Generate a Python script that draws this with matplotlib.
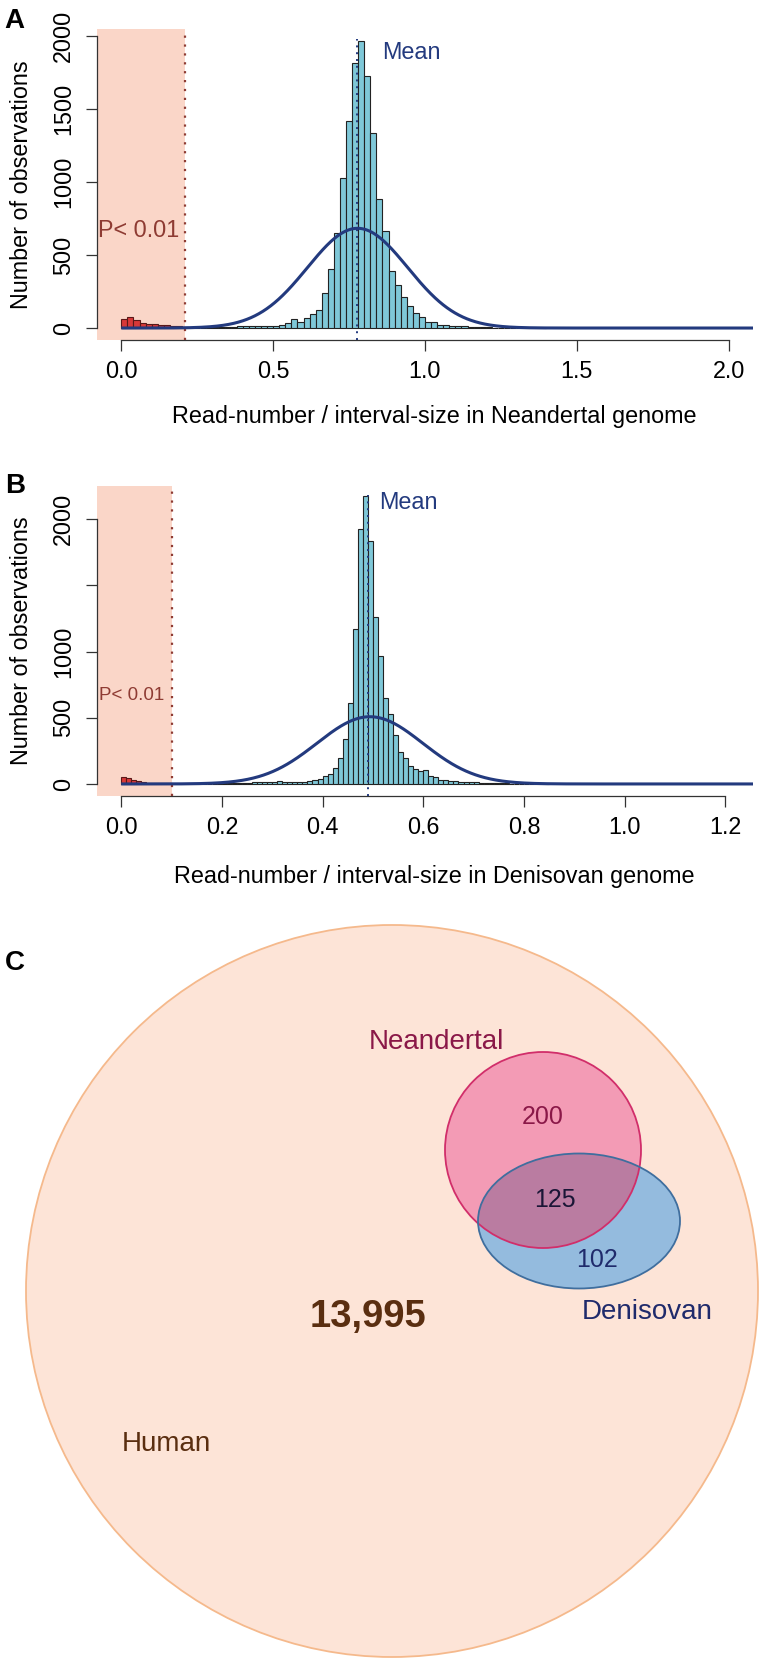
import numpy as np
import matplotlib
matplotlib.use("Agg")
import matplotlib.pyplot as plt
from matplotlib.patches import Circle, Ellipse

plt.rcParams['font.family'] = ['Liberation Sans', 'DejaVu Sans']

# ------------------------------------------------------------------ DATA
# Panel A: read-number / interval-size in the Neandertal genome (bins of 0.02 from 0.00)
nea_bin_width = 0.02
nea_counts = [
    64, 75, 57, 34, 30, 27, 23, 20, 16, 11,              # 0.00-0.20
    4, 3, 3, 3, 4, 5, 6, 7, 9, 11,                       # 0.20-0.40
    12, 13, 14, 14, 14, 16, 21, 32, 59, 43,              # 0.40-0.60
    66, 96, 123, 242, 402, 648, 1025, 1418, 1813, 1968,  # 0.60-0.80
    1726, 1333, 881, 664, 393, 292, 210, 153, 100, 73,   # 0.80-1.00
    41, 39, 23, 18, 14, 16, 11, 8, 6, 5,                 # 1.00-1.20
    4, 3, 3, 2, 2, 2, 1, 1, 1, 1,                        # 1.20-1.40
]
nea_cutoff = 0.21
nea_mean = 0.777
nea_mean_top = 1980
nea_fit_peak = 683
nea_fit_mean = 0.778
nea_fit_sd = 0.165
nea_xticks = [0.0, 0.5, 1.0, 1.5, 2.0]
nea_xticklabels = ["0.0", "0.5", "1.0", "1.5", "2.0"]
nea_yticks = [0, 500, 1000, 1500, 2000]
nea_yticklabels = ["0", "500", "1000", "1500", "2000"]

# Panel B: read-number / interval-size in the Denisovan genome (bins of 0.01 from 0.00)
den_bin_width = 0.01
den_counts = [
    50, 43, 30, 25, 18, 10, 8, 6, 5, 4,                   # 0.00-0.10
    3, 3, 2, 2, 2, 2, 3, 3, 3, 4,                         # 0.10-0.20
    4, 5, 6, 7, 8, 10, 12, 15, 17, 18,                    # 0.20-0.30
    18, 20, 17, 15, 14, 14, 16, 20, 28, 40,               # 0.30-0.40
    58, 74, 122, 194, 337, 612, 1172, 1928, 2172, 1834,   # 0.40-0.50
    1265, 965, 653, 525, 368, 245, 193, 134, 112, 100,    # 0.50-0.60
    106, 58, 53, 32, 27, 23, 20, 18, 15, 13,              # 0.60-0.70
    11, 10, 8, 7, 6, 5, 4, 3, 3, 2,                       # 0.70-0.80
    2, 1, 1, 1, 1,                                        # 0.80-0.85
]
den_cutoff = 0.10
den_mean = 0.490
den_mean_top = 2180
den_fit_peak = 508
den_fit_mean = 0.494
den_fit_sd = 0.105
den_xticks = [0.0, 0.2, 0.4, 0.6, 0.8, 1.0, 1.2]
den_xticklabels = ["0.0", "0.2", "0.4", "0.6", "0.8", "1.0", "1.2"]
den_yticks = [0, 500, 1000, 1500, 2000]
den_yticklabels = ["0", "500", "1000", "", "2000"]

# Panel C: Venn diagram counts
venn_set_names = ["Human", "Neandertal", "Denisovan"]
venn_region_names = ["Human only", "Neandertal only", "Neandertal & Denisovan", "Denisovan only"]
venn_region_counts = [13995, 200, 125, 102]

# ------------------------------------------------------------------ STYLE
W, H = 765, 1668
PINK_BG = "#FAD6C8"
CUT_COL = "#8E3B33"
CYAN = "#7FC8D8"
RED = "#D83838"
NAVY = "#233A7E"
EDGE = "#222222"
AX_COL = "#333333"
FS = 16.8

fig = plt.figure(figsize=(W / 100, H / 100), dpi=100)
fig.patch.set_facecolor("white")


def px_axes(x0, y0, x1, y1):
    """axes from pixel box (top-left origin)"""
    return fig.add_axes([x0 / W, 1 - y1 / H, (x1 - x0) / W, (y1 - y0) / H])


def hist_panel(ax, counts, bw, cutoff, mean, mean_top, fpeak, fmean, fsd,
               xlim, ylim, xticks, xtl, yticks, ytl, xlab, ptxt_xy, ptxt_size,
               mean_xy, xspine_max):
    counts = np.asarray(counts, dtype=float)
    left = np.arange(len(counts)) * bw
    sig = left + bw <= cutoff + 1e-9
    ax.set_xlim(*xlim)
    ax.set_ylim(*ylim)
    ax.axvspan(xlim[0], cutoff, color=PINK_BG, lw=0, zorder=0)
    ax.bar(left[~sig], counts[~sig], width=bw, align='edge', color=CYAN,
           edgecolor=EDGE, linewidth=0.8, zorder=2)
    ax.bar(left[sig], counts[sig], width=bw, align='edge', color=RED,
           edgecolor="#5A1818", linewidth=0.8, zorder=2)
    ax.axvline(cutoff, color=CUT_COL, ls=(0, (1, 3)), lw=1.6, zorder=3)
    ax.plot([mean, mean], [ylim[0], mean_top], color=NAVY, ls=(0, (1, 2.5)),
            lw=1.4, zorder=3)
    xs = np.linspace(0, xlim[1], 800)
    ax.plot(xs, fpeak * np.exp(-0.5 * ((xs - fmean) / fsd) ** 2), color=NAVY,
            lw=2.2, zorder=4, solid_capstyle='butt')
    ax.text(*ptxt_xy, "P< 0.01", color=CUT_COL, fontsize=ptxt_size,
            ha='center', va='center', zorder=5)
    ax.text(*mean_xy, "Mean", color=NAVY, fontsize=FS, ha='center',
            va='center', zorder=5)
    for s in ('top', 'right'):
        ax.spines[s].set_visible(False)
    ax.spines['left'].set_bounds(yticks[0], yticks[-1])
    ax.spines['bottom'].set_bounds(0, xspine_max)
    for s in ('left', 'bottom'):
        ax.spines[s].set_color(AX_COL)
        ax.spines[s].set_linewidth(0.9)
    ax.set_xticks(xticks, xtl)
    ax.set_yticks(yticks, ytl)
    ax.tick_params(direction='out', length=7.9, width=0.9, color=AX_COL,
                   labelsize=FS, labelcolor='black')
    ax.tick_params(axis='x', pad=6.3)
    ax.tick_params(axis='y', pad=7.9)
    for lbl in ax.get_yticklabels():
        lbl.set_rotation(90)
        lbl.set_va('center')
        lbl.set_ha('right')
    ax.set_facecolor('none')
    ax.set_xlabel(xlab, fontsize=FS)
    ax.set_ylabel("Number of observations", fontsize=FS)


# ---- Panel A (plot region 97..753 x 29..340 px)
axA = px_axes(97, 29, 753, 340)
hist_panel(axA, nea_counts, nea_bin_width, nea_cutoff, nea_mean, nea_mean_top,
           nea_fit_peak, nea_fit_mean, nea_fit_sd,
           (-0.08, 2.08), (-82, 2048), nea_xticks, nea_xticklabels,
           nea_yticks, nea_yticklabels,
           "Read-number / interval-size in Neandertal genome",
           (0.058, 671), FS, (0.956, 1884), 2.0)
axA.xaxis.set_label_coords((434.5 - 97) / 656, (340 - 423) / 311)
axA.xaxis.label.set_va('baseline')
axA.yaxis.set_label_coords((28.3 - 97) / 656, 0.5)
axA.yaxis.label.set_va('baseline')

# ---- Panel B (plot region 97..753 x 486..796 px)
axB = px_axes(97, 486, 753, 796)
hist_panel(axB, den_counts, den_bin_width, den_cutoff, den_mean, den_mean_top,
           den_fit_peak, den_fit_mean, den_fit_sd,
           (-0.048, 1.255), (-91, 2251), den_xticks, den_xticklabels,
           den_yticks, den_yticklabels,
           "Read-number / interval-size in Denisovan genome",
           (0.021, 672), 13.5, (0.571, 2128), 1.2)
axB.xaxis.set_label_coords((434.5 - 97) / 656, (796 - 883) / 310)
axB.xaxis.label.set_va('baseline')
axB.yaxis.set_label_coords((28.3 - 97) / 656, 0.5)
axB.yaxis.label.set_va('baseline')

# ---- Panel letters
for letter, (lx, ly) in zip("ABC", [(14.5, 28.3), (15.5, 493.3), (15, 970)]):
    fig.text(lx / W, 1 - ly / H, letter, fontsize=20, fontweight='bold',
             ha='center', va='baseline')

# ---- Panel C: Venn diagram (pixel coordinates)
axC = px_axes(0, 890, W, H)
axC.set_xlim(0, W)
axC.set_ylim(H, 890)
axC.set_aspect('equal')
axC.axis('off')

human = Circle((392, 1291), 366, facecolor="#FDE4D7", edgecolor="#F5B98C",
               lw=1.3, zorder=1)
axC.add_patch(human)
nea = Circle((543, 1150), 98, facecolor="#F39BB5", edgecolor='none', zorder=2)
axC.add_patch(nea)
den = Ellipse((579, 1221), 202, 135, facecolor="#94BBDE", edgecolor='none', zorder=3)
axC.add_patch(den)
ov = Ellipse((579, 1221), 202, 135, facecolor="#BA7CA1", edgecolor='none', zorder=4)
axC.add_patch(ov)
ov.set_clip_path(nea)
axC.add_patch(Circle((543, 1150), 98, facecolor='none', edgecolor="#D12E6A",
                     lw=1.3, zorder=5))
axC.add_patch(Ellipse((579, 1221), 202, 135, facecolor='none',
                      edgecolor="#3F6E9E", lw=1.3, zorder=5))

fmt = ["{:,}".format(v) for v in venn_region_counts]
axC.text(368, 1317, fmt[0], fontsize=27.5, fontweight='bold', color="#5A2E10",
         ha='center', va='center', zorder=6)
axC.text(543, 1117, fmt[1], fontsize=18, color="#8A1848", ha='center',
         va='center', zorder=6)
axC.text(555, 1200, fmt[2], fontsize=18, color="#1A1636", ha='center',
         va='center', zorder=6)
axC.text(597, 1260, fmt[3], fontsize=18, color="#1F2A6B", ha='center',
         va='center', zorder=6)
axC.text(166, 1444, venn_set_names[0], fontsize=20, color="#5A2E10",
         ha='center', va='center', zorder=6)
axC.text(436, 1042, venn_set_names[1], fontsize=20, color="#8A1848",
         ha='center', va='center', zorder=6)
axC.text(647, 1312, venn_set_names[2], fontsize=20, color="#1F2A6B",
         ha='center', va='center', zorder=6)

fig.savefig("out.png", dpi=100, facecolor="white")
